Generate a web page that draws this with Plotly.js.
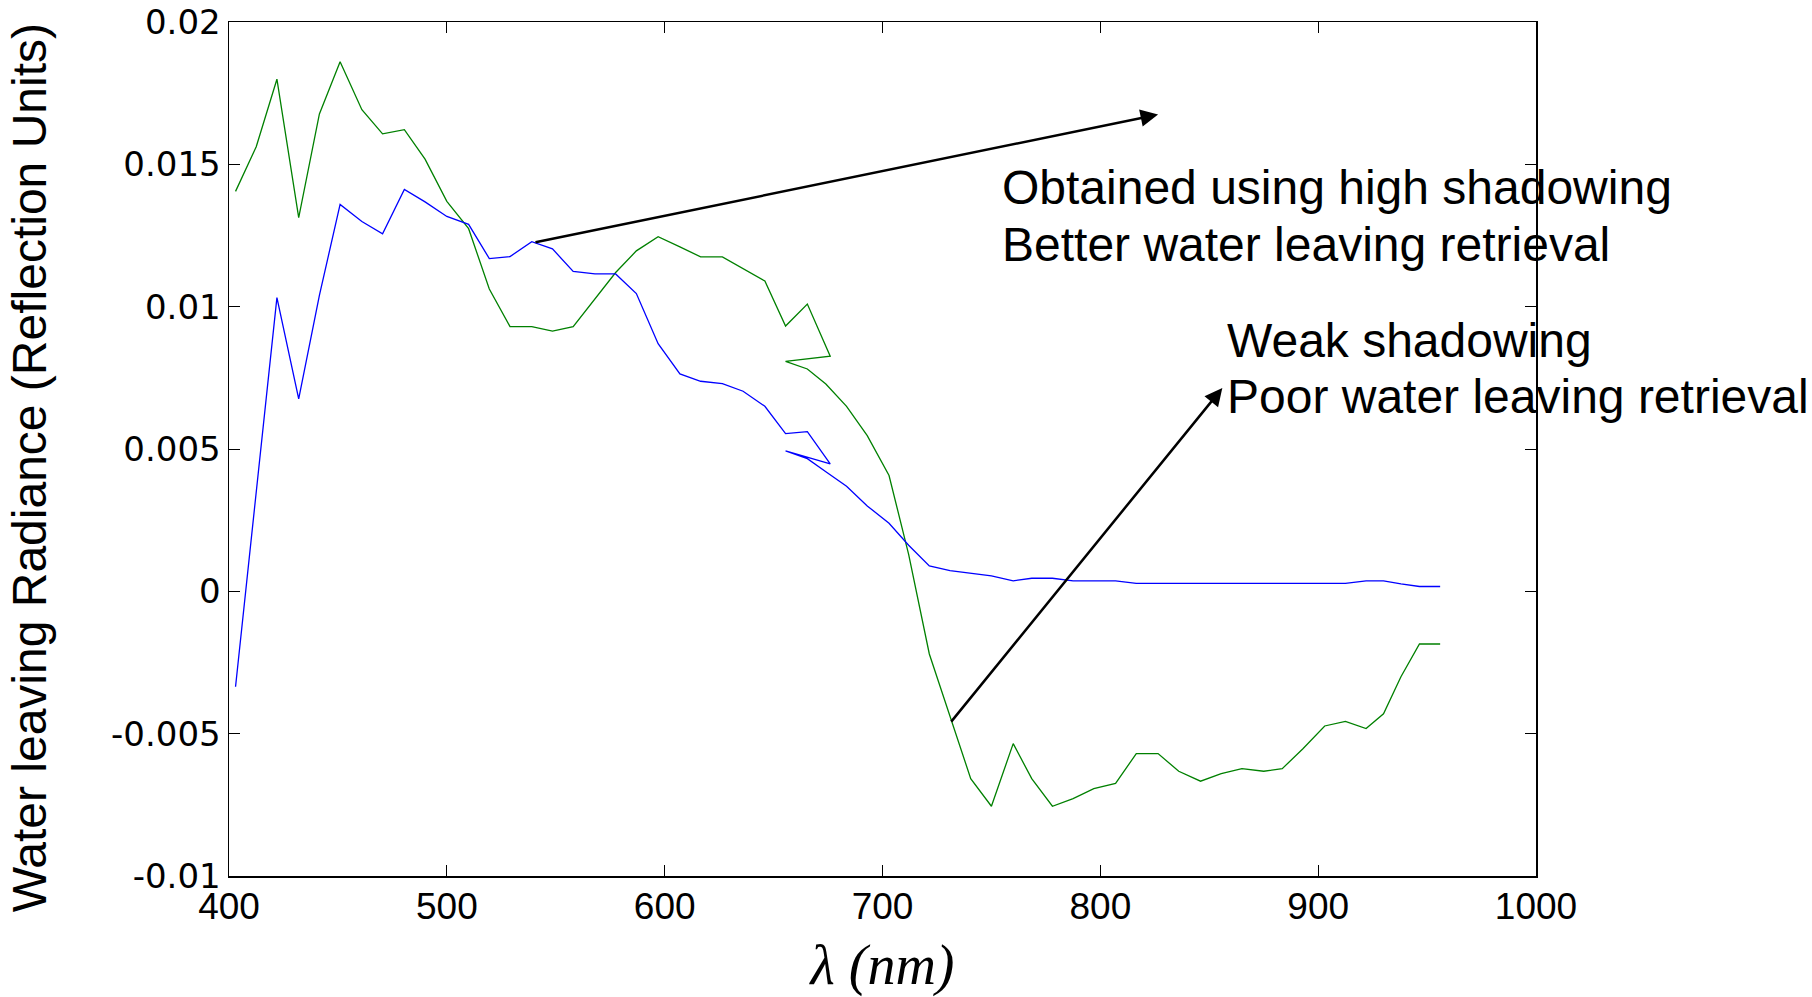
<!DOCTYPE html>
<html>
<head>
<meta charset="utf-8">
<script src="https://cdn.plot.ly/plotly-3.0.1.min.js"></script>
<style>html,body{margin:0;padding:0;background:#fff;}#chart{width:1812px;height:997px;}</style>
</head>
<body>
<div id="chart"></div>
<script>
// Wavelengths (nm): first spectrometer segment, then overlapping second segment
const wavelength1 = [403, 412.5, 422, 432, 441.5, 451, 461, 470.5, 480.5, 490, 500, 510, 519.5, 529, 539, 548.5, 558, 568, 577.5, 587, 597, 607, 616.5, 626.5, 636, 646, 655.5, 665.5, 676];
const wavelength2 = [655.5, 665.5, 674, 683.5, 693, 703, 712, 721.5, 731, 740.5, 750, 760, 768.5, 778, 787.5, 797, 807, 816.5, 826.5, 836, 846, 855.5, 865, 875, 883.5, 893, 903, 912.5, 922, 930, 938, 946.5, 956];

// Weak shadowing (green)
const weakSeg1 = [0.01405, 0.01562, 0.01799, 0.01313, 0.01677, 0.0186, 0.01692, 0.01607, 0.01622, 0.01518, 0.0137, 0.01274, 0.01062, 0.0093, 0.0093, 0.00914, 0.0093, 0.01026, 0.0112, 0.01196, 0.01246, 0.0121, 0.01175, 0.01175, 0.01133, 0.0109, 0.00932, 0.01009, 0.00826];
const weakSeg2 = [0.00808, 0.00781, 0.00728, 0.0065, 0.00547, 0.00407, 0.0013, -0.0022, -0.0044, -0.00658, -0.00755, -0.00535, -0.00658, -0.00755, -0.00728, -0.00693, -0.00675, -0.0057, -0.0057, -0.00632, -0.00667, -0.0064, -0.00623, -0.00632, -0.00623, -0.00553, -0.00473, -0.00457, -0.00482, -0.0043, -0.003, -0.00185, -0.00185];

// High shadowing (blue)
const highSeg1 = [-0.00335, 0.0035, 0.01032, 0.00676, 0.0104, 0.01359, 0.01299, 0.01256, 0.01412, 0.01368, 0.01317, 0.01289, 0.01169, 0.01176, 0.01228, 0.01203, 0.01124, 0.01115, 0.01115, 0.01046, 0.0087, 0.00764, 0.00738, 0.0073, 0.00703, 0.0065, 0.00554, 0.00561, 0.00448];
const highSeg2 = [0.00493, 0.00466, 0.0042, 0.00369, 0.003, 0.00239, 0.00162, 0.00089, 0.00073, 0.00063, 0.00054, 0.00037, 0.00046, 0.00046, 0.00037, 0.00037, 0.00037, 0.00028, 0.00028, 0.00028, 0.00028, 0.00028, 0.00028, 0.00028, 0.00028, 0.00028, 0.00028, 0.00028, 0.00037, 0.00037, 0.00026, 0.00017, 0.00017];

const xTicks = [400, 500, 600, 700, 800, 900, 1000];
const yTicks = [-0.01, -0.005, 0, 0.005, 0.01, 0.015, 0.02];
const yTickText = ['-0.01', '-0.005', '0', '0.005', '0.01', '0.015', '0.02'];

const yTitle = 'Water leaving Radiance (Reflection Units)';
const noteHigh = ['Obtained using high shadowing', 'Better water leaving retrieval'];
const noteWeak = ['Weak shadowing', 'Poor water leaving retrieval'];

const traces = [
  {x: wavelength1.concat(wavelength2), y: weakSeg1.concat(weakSeg2), type: 'scatter', mode: 'lines',
   line: {color: 'rgb(0,128,0)', width: 1.3}, name: 'Weak shadowing', showlegend: false},
  {x: wavelength1.concat(wavelength2), y: highSeg1.concat(highSeg2), type: 'scatter', mode: 'lines',
   line: {color: 'rgb(0,0,255)', width: 1.3}, name: 'High shadowing', showlegend: false}
];

const textFont = {family: 'Liberation Sans, Arial, sans-serif', size: 48, color: '#000'};
function note(txt, x, y) {
  return {text: txt, xref: 'paper', yref: 'paper', x: x, y: y, xanchor: 'left', yanchor: 'middle',
          showarrow: false, font: textFont};
}

const layout = {
  width: 1812, height: 997,
  margin: {l: 229, r: 276, t: 22, b: 121},
  paper_bgcolor: '#fff', plot_bgcolor: '#fff',
  showlegend: false,
  xaxis: {
    range: [400, 1000], tickvals: xTicks, ticks: 'inside', ticklen: 11, tickcolor: '#000', tickwidth: 1,
    showline: true, linecolor: '#000', linewidth: 1.5, mirror: 'ticks', showgrid: false, zeroline: false,
    tickfont: {family: 'Liberation Sans, Arial, sans-serif', size: 37, color: '#000'},
    ticklabelstandoff: -3,
    title: {text: '<i>λ (nm)</i>', font: {family: 'Liberation Serif, Times New Roman, serif', size: 56, color: '#000'}, standoff: 22}
  },
  yaxis: {
    range: [-0.01, 0.02], tickvals: yTicks, ticktext: yTickText, ticks: 'inside', ticklen: 11, tickcolor: '#000', tickwidth: 1,
    showline: true, linecolor: '#000', linewidth: 1.5, mirror: 'ticks', showgrid: false, zeroline: false,
    tickfont: {family: 'DejaVu Sans, sans-serif', size: 34, color: '#000'}
  },
  annotations: [
    {text: yTitle, xref: 'paper', yref: 'paper', x: -0.152, y: 0.4778, xanchor: 'center', yanchor: 'middle',
     textangle: -90, showarrow: false, font: textFont},
    {x: 826.5, y: 0.01675, ax: 540, ay: 0.01225, xref: 'x', yref: 'y', axref: 'x', ayref: 'y', text: '',
     showarrow: true, arrowhead: 2, arrowsize: 1.4, arrowwidth: 2.5, arrowcolor: '#000'},
    {x: 856, y: 0.00714, ax: 731, ay: -0.00463, xref: 'x', yref: 'y', axref: 'x', ayref: 'y', text: '',
     showarrow: true, arrowhead: 2, arrowsize: 1.4, arrowwidth: 2.5, arrowcolor: '#000'},
    note(noteHigh[0], 0.5898, 0.8066),
    note(noteHigh[1], 0.5898, 0.7391),
    note(noteWeak[0], 0.762, 0.627),
    note(noteWeak[1], 0.762, 0.5619)
  ]
};

Plotly.newPlot('chart', traces, layout, {displayModeBar: false, staticPlot: true});
</script>
</body>
</html>
